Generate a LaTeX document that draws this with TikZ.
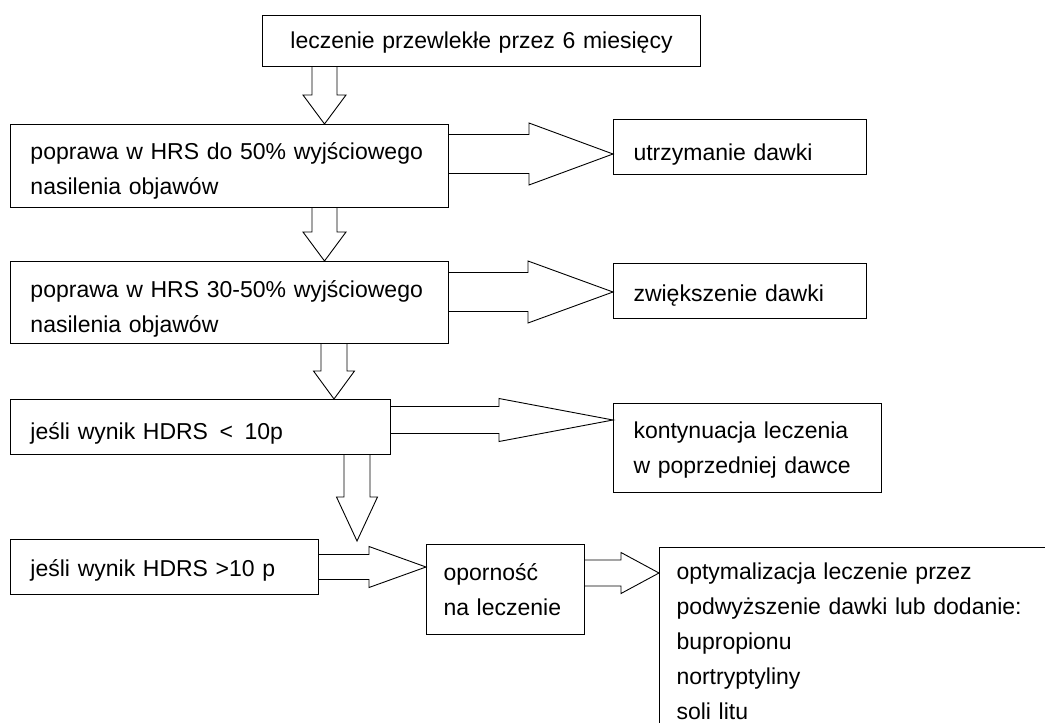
\documentclass[tikz,border=0pt]{standalone}
\usepackage{fontspec}
\setmainfont{Liberation Sans}
\usetikzlibrary{calc}
\newcommand{\fsz}{\fontsize{23pt}{35pt}\selectfont}
% right block arrow: #1 source node, #2 tip coordinate, #3 head length, #4 head half width, #5 shaft half width
\newcommand{\blockR}[5]{%
  \draw[blk] let \p1=(#2), \p2=(#1.east) in
    (\x2,\y1+#5pt) -- (\x1-#3pt,\y1+#5pt) -- (\x1-#3pt,\y1+#4pt) -- (\p1)
    -- (\x1-#3pt,\y1-#4pt) -- (\x1-#3pt,\y1-#5pt) -- (\x2,\y1-#5pt);}
% down block arrow: #1 source node, #2 tip coordinate, #3 head length, #4 head half width, #5 shaft half width
\newcommand{\blockD}[5]{%
  \draw[blk] let \p1=(#2), \p2=(#1.south) in
    (\x1-#5pt,\y2) -- (\x1-#5pt,\y1+#3pt) -- (\x1-#4pt,\y1+#3pt) -- (\p1)
    -- (\x1+#4pt,\y1+#3pt) -- (\x1+#5pt,\y1+#3pt) -- (\x1+#5pt,\y2);}
\begin{document}
\begin{tikzpicture}[x=1pt,y=-1pt,
  box/.style={draw, line width=1pt, rectangle, anchor=north west, align=left,
    inner xsep=20pt, inner ysep=0pt, font=\fsz, text=black},
  lower/.style={execute at begin node={\rule{0pt}{#1pt}}},
  blk/.style={draw, line width=0.9pt, line join=miter}]
\useasboundingbox (0,0) rectangle (1045,723);
\fill[white] (0,0) rectangle (1045,723);
\clip (0,0) rectangle (1045,723);

\node[box, lower=19, minimum width=438pt, minimum height=51pt, text width=398pt, align=center] (top) at (262,15) {leczenie przewlekłe przez 6 miesięcy};
\node[box, lower=26, minimum width=438pt, minimum height=83pt, text width=398pt] (b2) at (10,124) {poprawa w HRS do 50\% wyjściowego\\nasilenia objawów};
\node[box, lower=31, minimum width=253pt, minimum height=55pt, text width=213pt] (utr) at (613,119) {utrzymanie dawki};
\node[box, lower=29, minimum width=438pt, minimum height=82pt, text width=398pt] (b3) at (10,261) {poprawa w HRS 30-50\% wyjściowego\\nasilenia objawów};
\node[box, lower=25, minimum width=253pt, minimum height=55pt, text width=213pt] (zw) at (613,263) {zwiększenie dawki};
\node[box, lower=29, minimum width=380pt, minimum height=55pt, text width=340pt] (b4) at (10,399) {jeśli wynik HDRS \,<\, 10p};
\node[box, lower=21, minimum width=268pt, minimum height=89pt, text width=228pt] (kont) at (613,403) {kontynuacja leczenia\\w poprzedniej dawce};
\node[box, lower=24, minimum width=308pt, minimum height=55pt, text width=268pt] (b5) at (10,539) {jeśli wynik HDRS >10 p};
\node[box, inner xsep=17pt, minimum width=158pt, minimum height=90pt, text width=124pt] (op) at (426,544) {oporność\\na leczenie};
\node[box, inner xsep=17pt, inner ysep=15pt, text width=386pt] (opt) at (659,547) {optymalizacja leczenie przez\\podwyższenie dawki lub dodanie:\\bupropionu\\nortryptyliny\\soli litu};

% tips of the block arrows
\coordinate (d1) at (324.5,0 |- b2.north);
\coordinate (d2) at (324.5,0 |- b3.north);
\coordinate (d3) at (334,0 |- b4.north);
\coordinate (d4) at (357,541);
\coordinate (r1) at (utr.west |- 0,154);
\coordinate (r2) at (zw.west |- 0,292);
\coordinate (r3) at (kont.west |- 0,420);
\coordinate (r4) at (op.west |- 0,567);
\coordinate (r5) at (opt.west |- 0,573);

\blockD{top}{d1}{29}{21.5}{12.5}
\blockD{b2}{d2}{29}{21.5}{12.5}
\blockD{b3}{d3}{28}{20.5}{13}
\blockD{b4}{d4}{44}{20.5}{13}
\blockR{b2}{r1}{84}{31}{19.5}
\blockR{b3}{r2}{85}{31}{19.5}
\blockR{b4}{r3}{114}{21.5}{13.5}
\blockR{b5}{r4}{57}{20.5}{12.5}
\blockR{op}{r5}{38}{20.5}{13}
\end{tikzpicture}
\end{document}
